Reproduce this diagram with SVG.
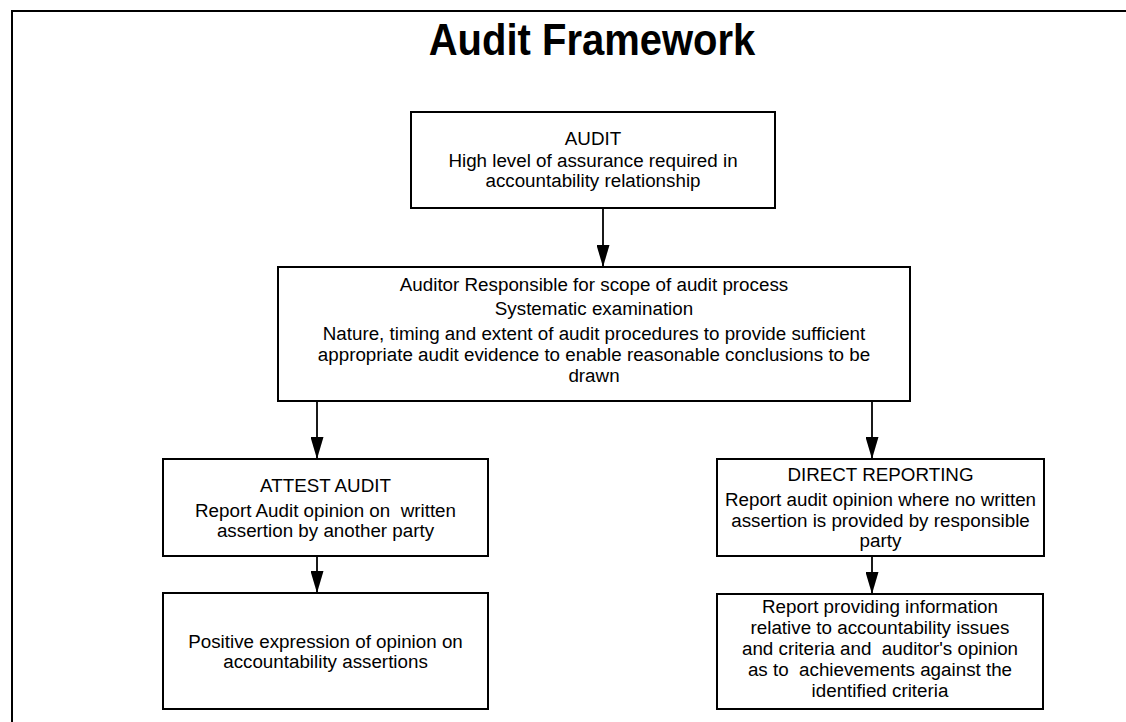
<svg xmlns="http://www.w3.org/2000/svg" width="1126" height="722" viewBox="0 0 1126 722">
<style>
.box{fill:#fff;stroke:#000;stroke-width:2}
.t{font-family:"Liberation Sans",Arial,sans-serif;font-size:18.8px;fill:#000;text-anchor:middle}
.title{font-family:"Liberation Sans",Arial,sans-serif;font-size:40px;font-weight:bold;fill:#000;text-anchor:middle}
.conn{stroke:#000;stroke-width:1.8;fill:none;marker-end:url(#ah)}
.frame{stroke:#000;stroke-width:2;fill:none}
</style>
<defs>
<marker id="ah" markerUnits="userSpaceOnUse" markerWidth="22" markerHeight="13" refX="22" refY="6.5" viewBox="0 0 22 13" orient="auto">
<path d="M0,0 L22,6.5 L0,13 Z" fill="#000"/>
</marker>
</defs>
<rect width="1126" height="722" fill="#fff"/>
<path class="frame" d="M12,722 L12,11 L1126,11"/>
<text class="title" transform="translate(592,55) scale(1,1.1)" x="0" y="0">Audit Framework</text>
<g id="connectors">
<line class="conn" x1="603" y1="208" x2="603" y2="267"/>
<line class="conn" x1="317" y1="401" x2="317" y2="459"/>
<line class="conn" x1="872" y1="401" x2="872" y2="459"/>
<line class="conn" x1="317" y1="556" x2="317" y2="593"/>
<line class="conn" x1="872" y1="556" x2="872" y2="594"/>
</g>
<g id="audit">
<rect class="box" x="411" y="112" width="364" height="96"/>
<text class="t" x="593" y="145">AUDIT</text>
<text class="t" x="593" y="167">High level of assurance required in</text>
<text class="t" x="593" y="187">accountability relationship</text>
</g>
<g id="auditor">
<rect class="box" x="278" y="267" width="632" height="134"/>
<text class="t" x="594" y="291">Auditor Responsible for scope of audit process</text>
<text class="t" x="594" y="315">Systematic examination</text>
<text class="t" x="594" y="340">Nature, timing and extent of audit procedures to provide sufficient</text>
<text class="t" x="594" y="361">appropriate audit evidence to enable reasonable conclusions to be</text>
<text class="t" x="594" y="382">drawn</text>
</g>
<g id="attest">
<rect class="box" x="163" y="459" width="325" height="97"/>
<text class="t" x="325.5" y="492">ATTEST AUDIT</text>
<text class="t" x="325.5" y="517" xml:space="preserve">Report Audit opinion on  written</text>
<text class="t" x="325.5" y="537">assertion by another party</text>
</g>
<g id="positive">
<rect class="box" x="163" y="593" width="325" height="116"/>
<text class="t" x="325.5" y="648">Positive expression of opinion on</text>
<text class="t" x="325.5" y="668">accountability assertions</text>
</g>
<g id="direct">
<rect class="box" x="717" y="459" width="327" height="97"/>
<text class="t" x="880.5" y="481">DIRECT REPORTING</text>
<text class="t" x="880.5" y="506">Report audit opinion where no written</text>
<text class="t" x="880.5" y="527">assertion is provided by responsible</text>
<text class="t" x="880.5" y="547">party</text>
</g>
<g id="report">
<rect class="box" x="717" y="594" width="326" height="115"/>
<text class="t" x="880" y="613">Report providing information</text>
<text class="t" x="880" y="634">relative to accountability issues</text>
<text class="t" x="880" y="655" xml:space="preserve">and criteria and  auditor's opinion</text>
<text class="t" x="880" y="676" xml:space="preserve">as to  achievements against the</text>
<text class="t" x="880" y="697">identified criteria</text>
</g>
</svg>
